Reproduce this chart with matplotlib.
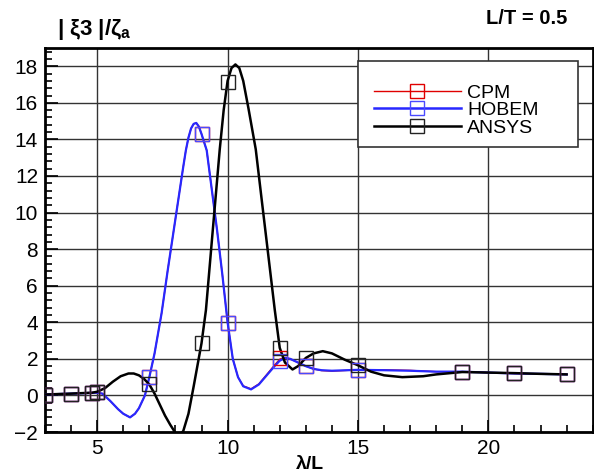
import matplotlib
matplotlib.use("Agg")
import matplotlib.pyplot as plt
from matplotlib.ticker import MultipleLocator
from matplotlib.patches import Rectangle

plt.rcParams['font.family'] = ['Liberation Sans', 'DejaVu Sans']

# HOBEM curve
hob_x = [3.0, 4.0, 5.0, 5.2, 5.5, 5.8, 6.0, 6.26, 6.45, 6.6, 6.83, 7.0, 7.2, 7.47, 7.7, 7.9, 8.1,
         8.3, 8.4, 8.5, 8.6, 8.7, 8.8, 8.9, 9.0, 9.2, 9.4, 9.6, 9.8, 10.0, 10.2, 10.4, 10.6,
         10.9, 11.2, 11.5, 11.8, 12.0, 12.2, 12.4, 12.7, 13.0, 13.3, 13.6, 14.0, 15.0, 16.0,
         17.0, 18.0, 19.0, 20.0, 21.0, 22.0, 23.0]
hob_y = [0.05, 0.1, 0.15, 0.1, -0.3, -0.75, -1.0, -1.2, -1.0, -0.7, 0.0, 1.0, 2.3, 4.5, 6.8, 8.7, 10.6,
         12.5, 13.4, 14.1, 14.6, 14.85, 14.9, 14.7, 14.3, 13.4, 11.2, 9.0, 6.6, 4.0, 2.0, 1.0, 0.5,
         0.33, 0.6, 1.1, 1.6, 1.9, 2.05, 2.0, 1.8, 1.6, 1.45, 1.38, 1.35, 1.4, 1.38,
         1.35, 1.3, 1.3, 1.25, 1.2, 1.18, 1.15]

# CPM curve
cpm_x = hob_x
cpm_y = [0.05, 0.1, 0.15, 0.1, -0.3, -0.75, -1.0, -1.2, -1.0, -0.7, 0.0, 1.0, 2.3, 4.5, 6.8, 8.7, 10.6,
         12.5, 13.4, 14.1, 14.6, 14.85, 14.9, 14.7, 14.3, 13.4, 11.2, 9.0, 6.6, 4.0, 2.0, 1.0, 0.52,
         0.36, 0.63, 1.14, 1.66, 1.98, 2.08, 2.0, 1.8, 1.6, 1.45, 1.36, 1.33, 1.4, 1.4,
         1.37, 1.3, 1.3, 1.25, 1.2, 1.18, 1.15]

# ANSYS curve
ans_x = [3.0, 4.0, 4.8, 5.0, 5.3, 5.6, 5.9, 6.2, 6.4, 6.6, 6.8, 7.0, 7.2, 7.4, 7.6, 7.8, 8.0, 8.13,
         8.3, 8.5, 8.7, 9.0, 9.17, 9.4, 9.7, 9.85, 10.0, 10.15, 10.3, 10.45, 10.6, 10.8, 11.08,
         11.3, 11.5, 11.81, 12.0, 12.2, 12.49, 12.7, 13.0, 13.3, 13.65, 14.0, 14.5, 15.0, 15.5,
         16.0, 16.7, 17.5, 18.0, 19.0, 20.0, 21.0, 22.0, 23.0]
ans_y = [0.05, 0.1, 0.15, 0.2, 0.4, 0.75, 1.05, 1.2, 1.2, 1.1, 0.9, 0.6, 0.1, -0.5, -1.1, -1.6, -2.05, -2.2,
         -1.95, -1.0, 0.5, 2.85, 4.67, 8.5, 13.46, 15.6, 17.2, 17.9, 18.1, 17.9, 17.2, 15.7, 13.46,
         10.8, 8.4, 4.67, 2.6, 1.8, 1.42, 1.6, 2.05, 2.3, 2.42, 2.3, 1.95, 1.65, 1.3,
         1.1, 1.0, 1.05, 1.15, 1.28, 1.25, 1.22, 1.18, 1.15]

# Markers
mk_x = [3, 4, 4.8, 5, 7, 9, 10, 12, 13, 15, 19, 21, 23]
cpm_mk = [0.05, 0.1, 0.15, 0.18, 1.0, 14.3, 3.95, 2.05, 1.6, 1.37, 1.3, 1.22, 1.15]
hob_mk = [0.05, 0.1, 0.15, 0.18, 1.0, 14.3, 3.95, 1.9, 1.6, 1.37, 1.3, 1.22, 1.15]
ans_mk = [0.05, 0.1, 0.15, 0.2, 0.65, 2.85, 17.15, 2.6, 2.05, 1.65, 1.28, 1.22, 1.15]

fig = plt.figure(figsize=(5.94, 4.75), dpi=100)
ax = fig.add_axes([0.0758, 0.0905, 0.922, 0.8085])

ax.grid(True, which='major', color='#333333', linewidth=1.0)
ax.set_axisbelow(True)

ax.plot(cpm_x, cpm_y, color='#e00000', linewidth=1.0, zorder=3)
ax.plot(hob_x, hob_y, color='#2828ff', linewidth=1.6, zorder=4)
ax.plot(ans_x, ans_y, color='black', linewidth=1.8, zorder=5)

ax.plot(mk_x, cpm_mk, 's', mfc='none', mec='#e00000', ms=9.5, mew=1.0, zorder=6)
ax.plot(mk_x, hob_mk, 's', mfc='none', mec='#4a4aff', ms=9.5, mew=1.0, zorder=7)
ax.plot(mk_x, ans_mk, 's', mfc='none', mec='#222222', ms=9.5, mew=1.0, zorder=8)

# legend proxies
ax.plot([], [], color='#e00000', linewidth=1.0, marker='s', mfc='none', mec='#e00000', ms=9.5, label='CPM')
ax.plot([], [], color='#2828ff', linewidth=1.8, marker='s', mfc='none', mec='#4a4aff', ms=9.5, label='HOBEM')
ax.plot([], [], color='black', linewidth=1.8, marker='s', mfc='none', mec='#222222', ms=9.5, label='ANSYS')

ax.set_xlim(3, 24)
ax.set_ylim(-2, 19)
ax.xaxis.set_major_locator(MultipleLocator(5))
ax.xaxis.set_minor_locator(MultipleLocator(1))
ax.yaxis.set_major_locator(MultipleLocator(2))
ax.yaxis.set_minor_locator(MultipleLocator(0.4))
ax.tick_params(which='both', direction='in', top=False, right=False, labelsize=15, width=1.2)
ax.tick_params(which='major', length=9, pad=5)
ax.tick_params(which='minor', length=5)
for s in ax.spines.values():
    s.set_linewidth(2.0)

ax.set_xlabel('λ/L', fontsize=14, fontweight='bold')
ax.xaxis.set_label_coords(0.483, -0.085, transform=ax.transAxes)
ax.xaxis.label.set_va('center')

# legend box frame
box = Rectangle((0.571, 0.742), 0.4016, 0.224, transform=ax.transAxes, facecolor='white',
                edgecolor='#333333', linewidth=1.2, zorder=9)
ax.add_patch(box)

leg = ax.legend(loc='upper left', bbox_to_anchor=(0.600, 0.906), fontsize=14, frameon=False,
                handlelength=4.5, handletextpad=0.3, labelspacing=0.0, borderpad=0.0,
                borderaxespad=0)
leg.set_zorder(10)

fig.text(0.096, 0.937, '| ξ3 |/ζ$_\\mathregular{a}$', fontsize=16, fontweight='bold', ha='left', va='center')
fig.text(0.955, 0.962, 'L/T = 0.5', fontsize=14.5, fontweight='bold', ha='right', va='center')

fig.savefig('out.png', dpi=100)
